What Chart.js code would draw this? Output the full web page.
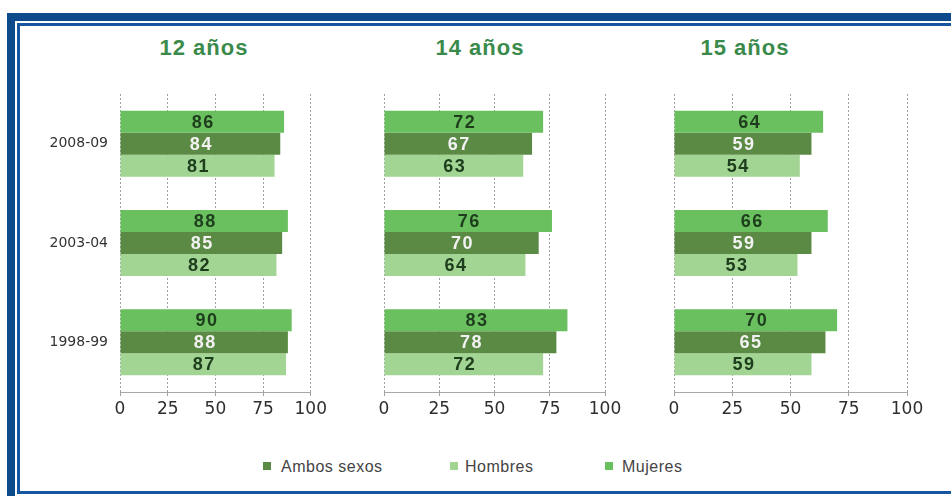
<!DOCTYPE html>
<html>
<head>
<meta charset="utf-8">
<script src="https://cdn.jsdelivr.net/npm/chart.js@4/dist/chart.umd.min.js"></script>
<style>
  html, body { margin:0; padding:0; background:#fff; }
  body { width:951px; height:496px; position:relative; overflow:hidden; font-family:"Liberation Sans", Arial, sans-serif; }
  .outer { position:absolute; left:7px; top:13px; width:1000px; height:500px; border:8px solid #0c4a8c; box-sizing:border-box; }
  .inner { position:absolute; left:17px; top:23px; width:1000px; height:471px; border:3px solid #1656a0; box-sizing:border-box; }
  canvas { position:absolute; }
  .title { position:absolute; top:35px; height:26px; line-height:26px; font-weight:bold; font-size:22px; color:#3a8a4c; letter-spacing:1px; transform:translateX(-50%); white-space:nowrap; }
  .leg { position:absolute; top:457px; height:20px; line-height:20px; font-size:16px; color:#444; letter-spacing:0.5px; white-space:nowrap; }
  .sw { position:absolute; top:462px; width:8px; height:8px; }
</style>
</head>
<body>
<div class="outer"></div>
<div class="inner"></div>

<div class="title" style="left:204px">12 años</div>
<div class="title" style="left:480px">14 años</div>
<div class="title" style="left:745px">15 años</div>

<canvas id="c1" width="310" height="345" style="left:20px;top:80px"></canvas>
<canvas id="c2" width="270" height="345" style="left:364px;top:80px"></canvas>
<canvas id="c3" width="280" height="345" style="left:654px;top:80px"></canvas>

<div class="sw" style="left:263px;background:#5b8a44"></div>
<div class="leg" style="left:281px">Ambos sexos</div>
<div class="sw" style="left:450px;background:#a2d493"></div>
<div class="leg" style="left:465px">Hombres</div>
<div class="sw" style="left:605px;background:#6abf5e"></div>
<div class="leg" style="left:622px">Mujeres</div>

<script>
// ---- data ----
const periods = ["2008-09", "2003-04", "1998-99"];
const panelTitles = ["12 años", "14 años", "15 años"];
const xTicks = [0, 25, 50, 75, 100];

const mujeres12 = [86, 88, 90];
const ambos12   = [84, 85, 88];
const hombres12 = [81, 82, 87];

const mujeres14 = [72, 76, 83];
const ambos14   = [67, 70, 78];
const hombres14 = [63, 64, 72];

const mujeres15 = [64, 66, 70];
const ambos15   = [59, 59, 65];
const hombres15 = [54, 53, 59];

// ---- styles ----
const colMujeres = "#6abf5e";
const colAmbos = "#5b8a44";
const colHombres = "#a2d493";

const valueLabels = {
  id: "valueLabels",
  afterDatasetsDraw(chart) {
    const ctx = chart.ctx;
    chart.data.datasets.forEach((ds, i) => {
      const meta = chart.getDatasetMeta(i);
      meta.data.forEach((bar, j) => {
        const x = (bar.x + bar.base) / 2;
        ctx.save();
        ctx.font = 'bold 18px "Liberation Sans"';
        try { ctx.letterSpacing = "1.5px"; } catch (e) {}
        ctx.fillStyle = ds.labelColor;
        ctx.textAlign = "center";
        ctx.textBaseline = "middle";
        ctx.fillText(String(ds.data[j]), x + 1, bar.y + 1);
        ctx.restore();
      });
    });
  }
};

function makeChart(id, muj, amb, hom, showY, padL, padR) {
  return new Chart(document.getElementById(id), {
    type: "bar",
    data: {
      labels: periods,
      datasets: [
        { label: "Mujeres", data: muj, backgroundColor: colMujeres, labelColor: "#1d3d1d" },
        { label: "Ambos sexos", data: amb, backgroundColor: colAmbos, labelColor: "#f2f2f2" },
        { label: "Hombres", data: hom, backgroundColor: colHombres, labelColor: "#1d3d1d" }
      ]
    },
    options: {
      indexAxis: "y",
      responsive: false,
      animation: false,
      devicePixelRatio: 1,
      categoryPercentage: 0.665,
      barPercentage: 1.0,
      layout: { padding: { left: padL, right: padR, top: 14, bottom: 0 } },
      plugins: { legend: { display: false }, tooltip: { enabled: false }, title: { display: false } },
      scales: {
        x: {
          min: 0, max: 100,
          afterBuildTicks(scale) { scale.ticks = xTicks.map(v => ({ value: v })); },
          afterFit(scale) { scale.height = 33; },
          grid: { color: "#a0a0a0", lineWidth: 1, tickLength: 4, tickColor: "#a0a0a0", drawTicks: true },
          border: { display: true, color: "#a8a8a8", width: 1, dash: [2, 2] },
          ticks: { color: "#2e2e2e", font: { family: "DejaVu Sans", size: 17 }, padding: 3, maxRotation: 0, autoSkip: false }
        },
        y: {
          afterFit(scale) { scale.width = showY ? 100 : 0; scale.paddingTop = 0; scale.paddingBottom = 0; },
          grid: { display: false, drawTicks: false, tickLength: 0 },
          border: { display: false },
          ticks: { display: showY, color: "#333", font: { family: "DejaVu Sans", size: 14 }, padding: 12 }
        }
      }
    },
    plugins: [valueLabels]
  });
}

makeChart("c1", mujeres12, ambos12, hombres12, true, 0, 19);
makeChart("c2", mujeres14, ambos14, hombres14, false, 20, 29);
makeChart("c3", mujeres15, ambos15, hombres15, false, 20, 27);
</script>
</body>
</html>
